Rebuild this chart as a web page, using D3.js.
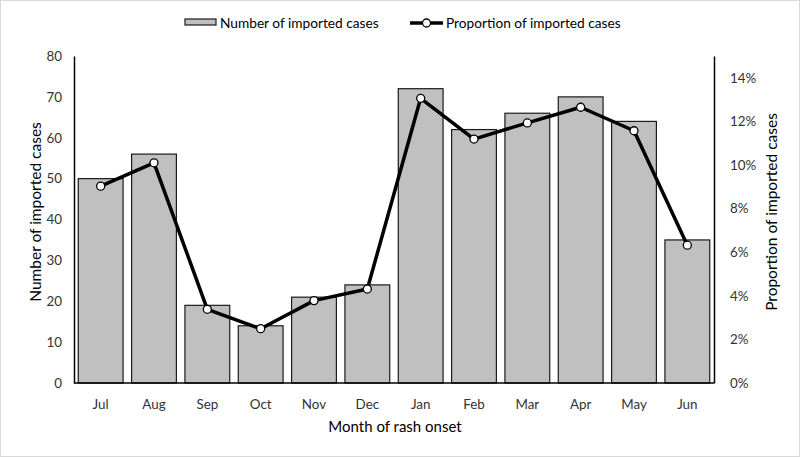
<!DOCTYPE html>
<html>
<head>
<meta charset="utf-8">
<script src="https://cdn.jsdelivr.net/npm/d3@7"></script>
<style>
  html, body { margin: 0; padding: 0; background: #fff; }
  svg { display: block; font-family: Lato, "Open Sans", sans-serif; }
</style>
</head>
<body>
<svg id="chart" width="800" height="457"></svg>
<script>
const months = ["Jul","Aug","Sep","Oct","Nov","Dec","Jan","Feb","Mar","Apr","May","Jun"];
const importedCases = [50, 56, 19, 14, 21, 24, 72, 62, 66, 70, 64, 35];
const proportionImported = [0.0903, 0.1010, 0.0338, 0.0249, 0.0378, 0.0431, 0.1306, 0.1119, 0.1193, 0.1265, 0.1157, 0.0632];
const leftTicks = [0, 10, 20, 30, 40, 50, 60, 70, 80];
const rightTicks = [0, 0.02, 0.04, 0.06, 0.08, 0.10, 0.12, 0.14];

const svg = d3.select("#chart");
const W = 800, H = 457;
const x0 = 74, x1 = 714;

svg.append("rect").attr("x", 0.5).attr("y", 0.5).attr("width", W - 1).attr("height", H - 1)
  .attr("fill", "#fff").attr("stroke", "#d9d9d9");

const x = d3.scaleBand().domain(months).range([x0, x1]).paddingInner(0.16).paddingOuter(0.08);
const yL = d3.scaleLinear().domain([0, 80]).range([383, 56]);
const yR = d3.scaleLinear().domain([0, 0.15]).range([383, 56]);

// bars
svg.append("g").selectAll("rect").data(months).join("rect")
  .attr("x", d => x(d))
  .attr("y", (d, i) => yL(importedCases[i]))
  .attr("width", x.bandwidth())
  .attr("height", (d, i) => yL(0) - yL(importedCases[i]))
  .attr("fill", "#c0c0c0").attr("stroke", "#1a1a1a").attr("stroke-width", 1.2);

// axes
const leftAxis = svg.append("g").attr("transform", `translate(${x0},0)`)
  .call(d3.axisLeft(yL).tickValues(leftTicks).tickSize(0).tickPadding(12));
const rightAxis = svg.append("g").attr("transform", `translate(${x1},0)`)
  .call(d3.axisRight(yR).tickValues(rightTicks).tickFormat(d3.format(".0%")).tickSize(0).tickPadding(16));
const bottomAxis = svg.append("g").attr("transform", `translate(0,${yL(0)})`)
  .call(d3.axisBottom(x).tickSize(0).tickPadding(16));
[leftAxis, rightAxis, bottomAxis].forEach(g => {
  g.select(".domain").attr("stroke", "#000").attr("stroke-width", 1.5);
  g.selectAll("text").attr("font-size", 13.4).attr("fill", "#333").attr("font-family", "Lato, 'Open Sans', sans-serif");
});
bottomAxis.select(".domain").attr("d", `M${x0},0H${x1}`);

// line
const pts = months.map((mo, i) => [x(mo) + x.bandwidth() / 2, yR(proportionImported[i])]);
svg.append("path").datum(pts).attr("d", d3.line())
  .attr("fill", "none").attr("stroke", "#000").attr("stroke-width", 3.5).attr("stroke-linejoin", "round");
svg.append("g").selectAll("circle").data(pts).join("circle")
  .attr("cx", d => d[0]).attr("cy", d => d[1]).attr("r", 4)
  .attr("fill", "#fff").attr("stroke", "#000").attr("stroke-width", 1.3);

// axis titles
svg.append("text").attr("transform", `translate(41,212) rotate(-90)`)
  .attr("text-anchor", "middle").attr("font-size", 15.5).attr("fill", "#000")
  .text("Number of imported cases");
svg.append("text").attr("transform", `translate(777,212) rotate(-90)`)
  .attr("text-anchor", "middle").attr("font-size", 15.5).attr("fill", "#000")
  .text("Proportion of imported cases");
svg.append("text").attr("x", 395).attr("y", 432)
  .attr("text-anchor", "middle").attr("font-size", 15).attr("fill", "#000")
  .text("Month of rash onset");

// legend
const lg = svg.append("g");
lg.append("rect").attr("x", 185).attr("y", 19).attr("width", 31).attr("height", 6)
  .attr("fill", "#c0c0c0").attr("stroke", "#1a1a1a").attr("stroke-width", 1.2);
lg.append("text").attr("x", 220).attr("y", 28).attr("font-size", 13.7).attr("fill", "#000")
  .text("Number of imported cases");
lg.append("line").attr("x1", 410).attr("x2", 443).attr("y1", 23).attr("y2", 23)
  .attr("stroke", "#000").attr("stroke-width", 3.5);
lg.append("circle").attr("cx", 426.5).attr("cy", 23).attr("r", 4)
  .attr("fill", "#fff").attr("stroke", "#000").attr("stroke-width", 1.3);
lg.append("text").attr("x", 446).attr("y", 28).attr("font-size", 13.7).attr("fill", "#000")
  .text("Proportion of imported cases");
</script>
</body>
</html>
